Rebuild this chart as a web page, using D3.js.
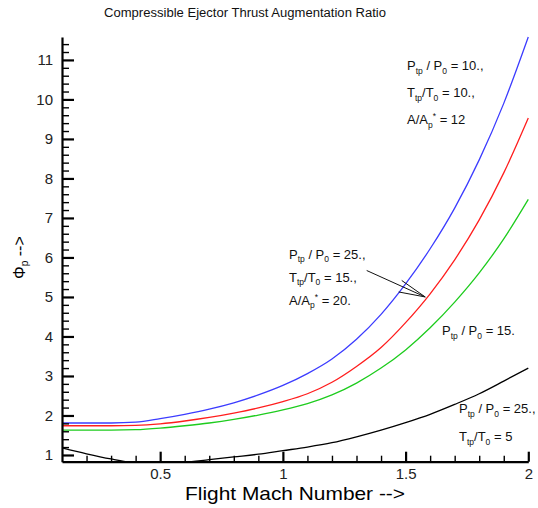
<!DOCTYPE html>
<html>
<head>
<meta charset="utf-8">
<script src="https://cdn.jsdelivr.net/npm/d3@7"></script>
<style>
  html, body { margin: 0; padding: 0; background: #fff; }
  svg { display: block; font-family: "Liberation Sans", Arial, Helvetica, sans-serif; }
</style>
</head>
<body>
<svg id="chart" width="538" height="508"></svg>
<script>
// Flight Mach number samples
const mach = [0.1, 0.2, 0.3, 0.4, 0.5, 0.6, 0.7, 0.8, 0.9, 1.0,
              1.1, 1.2, 1.3, 1.4, 1.5, 1.6, 1.7, 1.8, 1.9, 2.0];

// Thrust augmentation ratio for each ejector case
const phiCase1 = [1.81, 1.81, 1.81, 1.83, 1.92, 2.03, 2.16, 2.32, 2.52, 2.76,
                  3.06, 3.43, 3.93, 4.56, 5.33, 6.22, 7.25, 8.47, 9.90, 11.58];  // Ptp/P0=10, Ttp/T0=10, A/Ap*=12
const phiCase2 = [1.74, 1.74, 1.74, 1.75, 1.79, 1.86, 1.95, 2.06, 2.19, 2.35,
                  2.55, 2.84, 3.24, 3.72, 4.35, 5.08, 5.94, 6.95, 8.14, 9.53];   // Ptp/P0=25, Ttp/T0=15, A/Ap*=20
const phiCase3 = [1.63, 1.63, 1.63, 1.64, 1.68, 1.74, 1.81, 1.90, 2.01, 2.14,
                  2.30, 2.52, 2.82, 3.20, 3.66, 4.22, 4.87, 5.61, 6.47, 7.47];   // Ptp/P0=15
const phiCase4 = [1.18, 1.03, 0.90, 0.80, 0.77, 0.81, 0.88, 0.95, 1.02, 1.11,
                  1.20, 1.31, 1.46, 1.63, 1.82, 2.03, 2.28, 2.55, 2.87, 3.20];   // Ptp/P0=25, Ttp/T0=5

const seriesColors = ["#3c3cff", "#ff1e1e", "#1ecc1e", "#000000"];

// Axis ticks
const xMajorTicks = [0.5, 1, 1.5, 2];
const xMajorLabels = ["0.5", "1", "1.5", "2"];
const yMajorTicks = [1, 2, 3, 4, 5, 6, 7, 8, 9, 10, 11];
const yMajorLabels = ["1", "2", "3", "4", "5", "6", "7", "8", "9", "10", "11"];

const titleText = "Compressible Ejector Thrust Augmentation Ratio";
const xTitle = "Flight Mach Number -->";

// Annotation text pieces: [text, mode] where mode is "", "sub" or "sup"
const noteCase1 = [
  [["P", ""], ["tp", "sub"], [" / P", ""], ["0", "sub"], [" = 10.,", ""]],
  [["T", ""], ["tp", "sub"], ["/T", ""], ["0", "sub"], [" = 10.,", ""]],
  [["A/A", ""], ["p", "sub"], ["*", "sup"], [" = 12", ""]]
];
const noteCase2 = [
  [["P", ""], ["tp", "sub"], [" / P", ""], ["0", "sub"], [" = 25.,", ""]],
  [["T", ""], ["tp", "sub"], ["/T", ""], ["0", "sub"], [" = 15.,", ""]],
  [["A/A", ""], ["p", "sub"], ["*", "sup"], [" = 20.", ""]]
];
const noteCase3 = [
  [["P", ""], ["tp", "sub"], [" / P", ""], ["0", "sub"], [" = 15.", ""]]
];
const noteCase4 = [
  [["P", ""], ["tp", "sub"], [" / P", ""], ["0", "sub"], [" = 25.,", ""]],
  [["T", ""], ["tp", "sub"], ["/T", ""], ["0", "sub"], [" = 5", ""]]
];

const svg = d3.select("#chart");

const x = d3.scaleLinear().domain([0.1, 2.0]).range([62, 528.3]);
const y = d3.scaleLinear().domain([0.83, 11.58]).range([461.7, 37]);

// Title
svg.append("text")
  .attr("x", 245).attr("y", 16.5)
  .attr("text-anchor", "middle")
  .attr("font-size", 12.5)
  .attr("textLength", 282).attr("lengthAdjust", "spacingAndGlyphs")
  .attr("fill", "#111")
  .text(titleText);

// Clip the curves to the plotting frame
svg.append("clipPath").attr("id", "frame")
  .append("rect")
  .attr("x", x.range()[0]).attr("y", y.range()[1] - 2)
  .attr("width", x.range()[1] - x.range()[0] + 2)
  .attr("height", y.range()[0] - y.range()[1] + 2);

const line = d3.line()
  .x((d, i) => x(mach[i]))
  .y(d => y(d))
  .curve(d3.curveMonotoneX);

const curves = svg.append("g").attr("clip-path", "url(#frame)");
[phiCase1, phiCase2, phiCase3, phiCase4].forEach((vals, k) => {
  curves.append("path")
    .attr("d", line(vals))
    .attr("fill", "none")
    .attr("stroke", seriesColors[k])
    .attr("stroke-width", 1.3);
});

// Y axis: minor ticks every 0.2, major ticks every 1, ticks pointing inward
const yMinor = d3.range(1.2, 11.5, 0.2).filter(v => Math.abs(v - Math.round(v)) > 1e-6);
svg.append("g")
  .attr("transform", `translate(${x.range()[0]},0)`)
  .call(d3.axisLeft(y).tickValues(yMinor).tickSizeInner(-7).tickSizeOuter(0).tickFormat(""))
  .call(g => g.select(".domain").remove())
  .call(g => g.selectAll(".tick line").attr("stroke", "#000").attr("stroke-width", 1.4));

svg.append("g")
  .attr("transform", `translate(${x.range()[0]},0)`)
  .call(d3.axisLeft(y).tickValues(yMajorTicks).tickSizeInner(-12).tickSizeOuter(0)
    .tickPadding(9).tickFormat((d, i) => yMajorLabels[i]))
  .call(g => g.select(".domain").attr("stroke", "#000").attr("stroke-width", 2.2))
  .call(g => g.selectAll(".tick line").attr("stroke", "#000").attr("stroke-width", 2.2))
  .call(g => g.selectAll(".tick text")
    .attr("font-size", 15).attr("fill", "#222")
    .attr("font-family", "'Liberation Sans', Arial, sans-serif"));

// X axis: minor ticks every 0.1, major every 0.5
const xMinor = d3.range(0.2, 2.0, 0.1).filter(v => Math.abs(v * 2 - Math.round(v * 2)) > 1e-6);
svg.append("g")
  .attr("transform", `translate(0,${y.range()[0]})`)
  .call(d3.axisBottom(x).tickValues(xMinor).tickSizeInner(-6).tickSizeOuter(0).tickFormat(""))
  .call(g => g.select(".domain").remove())
  .call(g => g.selectAll(".tick line").attr("stroke", "#000").attr("stroke-width", 1.4));

svg.append("g")
  .attr("transform", `translate(0,${y.range()[0]})`)
  .call(d3.axisBottom(x).tickValues(xMajorTicks).tickSizeInner(-10).tickSizeOuter(0)
    .tickPadding(7).tickFormat((d, i) => xMajorLabels[i]))
  .call(g => g.select(".domain").attr("stroke", "#000").attr("stroke-width", 2.2))
  .call(g => g.selectAll(".tick line").attr("stroke", "#000").attr("stroke-width", 2.2))
  .call(g => g.selectAll(".tick text")
    .attr("font-size", 15).attr("fill", "#222")
    .attr("font-family", "'Liberation Sans', Arial, sans-serif"));

// Axis titles
svg.append("text")
  .attr("x", 295).attr("y", 500)
  .attr("text-anchor", "middle")
  .attr("font-size", 18.5)
  .attr("textLength", 220).attr("lengthAdjust", "spacingAndGlyphs")
  .attr("fill", "#000")
  .text(xTitle);

const yTitle = svg.append("text")
  .attr("transform", "translate(24.5,279) rotate(-90)")
  .attr("font-size", 16)
  .attr("fill", "#000");
yTitle.append("tspan").text("\u03A6");
yTitle.append("tspan").attr("font-size", 10).attr("dy", 3).text("p");
yTitle.append("tspan").attr("dy", -3).text(" -->");

// Annotations
function annotate(lines, x0, y0, lineGap) {
  lines.forEach((parts, li) => {
    const t = svg.append("text")
      .attr("x", x0).attr("y", y0 + li * lineGap)
      .attr("font-size", 13)
      .attr("fill", "#111");
    let shift = 0;
    parts.forEach(([s, mode]) => {
      const target = mode === "sub" ? 3.5 : mode === "sup" ? -5 : 0;
      t.append("tspan")
        .attr("dy", target - shift)
        .attr("font-size", mode ? 8.5 : 13)
        .text(s);
      shift = target;
    });
  });
}

annotate(noteCase1, 407, 70, 27);
annotate(noteCase2, 289, 258.5, 23);
annotate(noteCase3, 442, 335, 0);
annotate(noteCase4, 459, 413, 28);

// Pointer from the second note to its curve
const tip = [x(1.58), y(5.0)];
const tail = [366.7, 270.5];
const arrow = svg.append("g").attr("stroke", "#111").attr("stroke-width", 1).attr("fill", "none");
arrow.append("line").attr("x1", tail[0]).attr("y1", tail[1]).attr("x2", tip[0]).attr("y2", tip[1]);
arrow.append("path")
  .attr("d", `M${tip[0] - 23.5},${tip[1] - 16.5} L${tip[0]},${tip[1]} L${tip[0] - 26.5},${tip[1] - 5}`);
</script>
</body>
</html>
